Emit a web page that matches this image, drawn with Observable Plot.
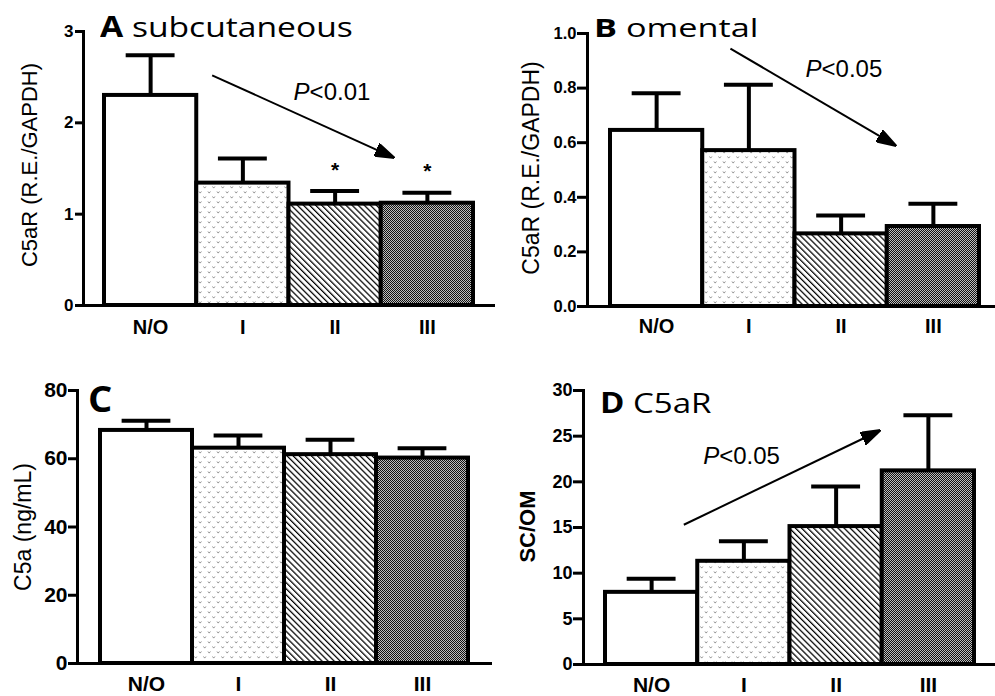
<!DOCTYPE html>
<html>
<head>
<meta charset="utf-8">
<script src="https://cdn.jsdelivr.net/npm/d3@7"></script>
<script src="https://cdn.jsdelivr.net/npm/@observablehq/plot@0.6"></script>
<style>
  html, body { margin: 0; padding: 0; background: #fff; }
  #page { position: relative; width: 995px; height: 696px; overflow: hidden; background: #fff; }
  .panel { position: absolute; }
  .panel svg { display: block; overflow: visible; }
  .panel svg, .panel svg text { font-family: "Liberation Sans", Arial, Helvetica, sans-serif !important; }
  .title { position: absolute; font-family: "Open Sans", "Noto Sans", sans-serif; line-height: 1; white-space: nowrap; color: #000; transform-origin: left center; }
  .title b { font-weight: 700; }
</style>
</head>
<body>
<svg width="0" height="0" style="position:absolute">
  <defs>
    <pattern id="pat-dots" width="9" height="10" patternUnits="userSpaceOnUse">
      <rect width="9" height="10" fill="white"/>
      <path d="M1,1.5 l1.2,1.6 l1.2,-1.6 M5.5,6.5 l1.2,1.6 l1.2,-1.6" stroke="#858585" stroke-width="0.9" fill="none"/>
    </pattern>
    <pattern id="pat-diag" width="4.3" height="10" patternUnits="userSpaceOnUse" patternTransform="rotate(-45)">
      <rect width="4.3" height="10" fill="white"/>
      <rect width="1.25" height="10" fill="black"/>
    </pattern>
    <pattern id="pat-check" width="2" height="2" patternUnits="userSpaceOnUse">
      <rect width="2" height="2" fill="#bdbdbd"/>
      <rect width="1" height="1" fill="#111"/>
      <rect x="1" y="1" width="1" height="1" fill="#111"/>
    </pattern>
  </defs>
</svg>
<div id="page">
  <div class="panel" id="pA" style="left:0px;top:0px"></div>
  <div class="panel" id="pB" style="left:497px;top:0px"></div>
  <div class="panel" id="pC" style="left:0px;top:340px"></div>
  <div class="panel" id="pD" style="left:497px;top:340px"></div>
  <div class="title" style="left:100px;top:12px;font-size:28px;transform:scaleX(1.2)"><b>A</b> subcutaneous</div>
  <div class="title" style="left:594px;top:15px;font-size:25px;transform:scaleX(1.37)"><b>B</b> omental</div>
  <div class="title" style="left:88px;top:381px;font-size:36px;transform:scaleX(1.06)"><b>C</b></div>
  <div class="title" style="left:600px;top:388px;font-size:28px;transform:scaleX(1.18)"><b>D</b> C5aR</div>
</div>
<script>
// ---------------- data ----------------
const categories = ["N/O", "I", "II", "III"];

// A: subcutaneous C5aR (R.E./GAPDH)
const subcutMean = [2.30, 1.34, 1.11, 1.12];
const subcutSem  = [0.44, 0.27, 0.145, 0.115];
const subcutSig  = ["", "", "*", "*"];
const subcutTicks = [0, 1, 2, 3];
const subcutTrendFrom = [0.667, 2.52];
const subcutTrendTo   = [2.636, 1.62];
const subcutPPos = [1.55, 2.245];
const subcutP = "<0.01";

// B: omental C5aR (R.E./GAPDH)
const omentalMean = [0.645, 0.571, 0.266, 0.293];
const omentalSem  = [0.136, 0.241, 0.067, 0.083];
const omentalTicks = [0, 0.2, 0.4, 0.6, 0.8, 1.0];
const omentalTrendFrom = [0.80, 0.945];
const omentalTrendTo   = [2.589, 0.590];
const omentalPPos = [1.614, 0.839];
const omentalP = "<0.05";

// C: serum C5a (ng/mL)
const c5aMean = [68.3, 63.1, 61.2, 60.2];
const c5aSem  = [2.8, 3.7, 4.4, 2.9];
const c5aTicks = [0, 20, 40, 60, 80];

// D: C5aR SC/OM ratio
const ratioMean = [7.9, 11.3, 15.1, 21.2];
const ratioSem  = [1.5, 2.2, 4.4, 6.1];
const ratioTicks = [0, 5, 10, 15, 20, 25, 30];
const ratioTrendFrom = [0.349, 15.3];
const ratioTrendTo   = [2.474, 25.62];
const ratioPPos = [0.559, 21.9];
const ratioP = "<0.05";

// ---------------- drawing ----------------
const fills = ["white", "url(#pat-dots)", "url(#pat-diag)", "url(#pat-check)"];
const FONT = "Liberation Sans, Arial, Helvetica, sans-serif";

function rows(mean, sem, sig) {
  return categories.map((c, i) => ({i, c, mean: mean[i], top: mean[i] + sem[i], sig: sig ? sig[i] : "", fill: fills[i]}));
}

function headMarker(color) {
  const ns = "http://www.w3.org/2000/svg";
  const m = document.createElementNS(ns, "marker");
  m.setAttribute("viewBox", "0 -7 20 14");
  m.setAttribute("markerUnits", "userSpaceOnUse");
  m.setAttribute("markerWidth", "20");
  m.setAttribute("markerHeight", "14");
  m.setAttribute("refX", "19");
  m.setAttribute("refY", "0");
  m.setAttribute("orient", "auto");
  const p = document.createElementNS(ns, "path");
  p.setAttribute("d", "M0,-6.5L20,0L0,6.5Z");
  p.setAttribute("fill", color === "currentColor" ? "black" : color);
  m.appendChild(p);
  return m;
}

function makePanel(cfg, marker) {
  const data = rows(cfg.mean, cfg.sem, cfg.sig);
  const cap = 0.265;
  const marks = [
    Plot.ruleX(data, {x: "i", y1: "mean", y2: "top", stroke: "black", strokeWidth: 4}),
    Plot.ruleY(data, {y: "top", x1: d => d.i - cap, x2: d => d.i + cap, stroke: "black", strokeWidth: 4}),
    Plot.rectY(data, {x1: d => d.i - 0.5, x2: d => d.i + 0.5, y: "mean", fill: "fill", stroke: "black", strokeWidth: 4}),
    Plot.ruleY([0], {stroke: "black", strokeWidth: 3}),
    Plot.frame({anchor: "left", stroke: "black", strokeWidth: 3}),
    Plot.axisY({ticks: cfg.ticks, tickFormat: cfg.tickFormat, tickSize: cfg.tickSize, tickPadding: cfg.tickPadding,
      fontSize: cfg.tickFont, fontWeight: "bold", stroke: "black", strokeWidth: 3, fill: "black", label: null}),
    Plot.axisX({ticks: [0, 1, 2, 3], tickFormat: i => categories[i], tickSize: 0, tickPadding: cfg.catPadding,
      fontSize: cfg.catFont, fontWeight: "bold", fill: "black", label: null}),
    Plot.text([cfg.yLabel], {frameAnchor: "left", text: d => d, rotate: -90, textAnchor: "middle", lineAnchor: "bottom",
      dx: cfg.yLabelDx, dy: cfg.yLabelDy, fontSize: cfg.yLabelFont, fontWeight: cfg.yLabelWeight, fill: "black"})
  ];
  if (cfg.sig) {
    marks.push(Plot.text(data, {x: "i", y: "top", text: "sig", dy: -21, fontSize: 21, fontWeight: "bold", fill: "black"}));
  }
  if (cfg.trendFrom) {
    const tr = [{x1: cfg.trendFrom[0], y1: cfg.trendFrom[1], x2: cfg.trendTo[0], y2: cfg.trendTo[1]}];
    if (marker === "custom") {
      marks.push(Plot.link(tr, {x1: "x1", y1: "y1", x2: "x2", y2: "y2", stroke: "black", strokeWidth: 2, markerEnd: headMarker}));
    } else {
      marks.push(Plot.arrow(tr, {x1: "x1", y1: "y1", x2: "x2", y2: "y2", stroke: "black", strokeWidth: 2, headLength: 16}));
    }
    const pp = [{x: cfg.pPos[0], y: cfg.pPos[1], t: cfg.pText}];
    marks.push(Plot.text(pp, {x: "x", y: "y", text: () => "P", fontStyle: "italic", textAnchor: "start", lineAnchor: "bottom", fontSize: 24, fill: "black"}));
    marks.push(Plot.text(pp, {x: "x", y: "y", text: "t", dx: 16, textAnchor: "start", lineAnchor: "bottom", fontSize: 24, fill: "black"}));
  }
  return Plot.plot({
    width: cfg.width, height: cfg.height,
    marginLeft: cfg.ml, marginRight: cfg.mr, marginTop: cfg.mt, marginBottom: cfg.mb,
    x: {type: "linear", domain: [-0.5, 3.5], insetLeft: cfg.il, insetRight: cfg.ir},
    y: {type: "linear", domain: [cfg.ticks[0], cfg.ticks[cfg.ticks.length - 1]]},
    color: {type: "identity"},
    style: {fontFamily: FONT, background: "transparent", color: "black", overflow: "visible"},
    marks
  });
}

const panels = [
  {id: "pA", width: 497, height: 340, ml: 83, mr: 2, mt: 31, mb: 35, il: 21, ir: 22,
   mean: subcutMean, sem: subcutSem, sig: subcutSig, ticks: subcutTicks, tickFormat: d3.format("d"),
   tickSize: 8, tickPadding: 2, tickFont: 17, catPadding: 14, catFont: 20,
   yLabel: "C5aR (R.E./GAPDH)", yLabelDx: -47, yLabelDy: -3.5, yLabelFont: 22, yLabelWeight: "normal",
   trendFrom: subcutTrendFrom, trendTo: subcutTrendTo, pPos: subcutPPos, pText: subcutP},
  {id: "pB", width: 498, height: 340, ml: 90, mr: 0, mt: 33, mb: 34, il: 23, ir: 16,
   mean: omentalMean, sem: omentalSem, ticks: omentalTicks, tickFormat: d3.format(".1f"),
   tickSize: 10, tickPadding: 1, tickFont: 16.5, catPadding: 12, catFont: 20,
   yLabel: "C5aR (R.E./GAPDH)", yLabelDx: -49, yLabelDy: -2, yLabelFont: 23, yLabelWeight: "normal",
   trendFrom: omentalTrendFrom, trendTo: omentalTrendTo, pPos: omentalPPos, pText: omentalP},
  {id: "pC", width: 497, height: 356, ml: 77, mr: 5, mt: 50, mb: 33, il: 23, ir: 24,
   mean: c5aMean, sem: c5aSem, ticks: c5aTicks, tickFormat: d3.format("d"),
   tickSize: 9, tickPadding: 1, tickFont: 21, catPadding: 13, catFont: 21,
   yLabel: "C5a (ng/mL)", yLabelDx: -47, yLabelDy: 0, yLabelFont: 23, yLabelWeight: "normal"},
  {id: "pD", width: 498, height: 356, ml: 86, mr: 0, mt: 50, mb: 32, il: 22, ir: 21,
   mean: ratioMean, sem: ratioSem, ticks: ratioTicks, tickFormat: d3.format("d"),
   tickSize: 10, tickPadding: 1, tickFont: 18, catPadding: 13, catFont: 21,
   yLabel: "SC/OM", yLabelDx: -49, yLabelDy: -1, yLabelFont: 22, yLabelWeight: "bold",
   trendFrom: ratioTrendFrom, trendTo: ratioTrendTo, pPos: ratioPPos, pText: ratioP}
];

for (const cfg of panels) {
  let chart;
  try { chart = makePanel(cfg, "custom"); }
  catch (e) { chart = makePanel(cfg, "arrow"); }
  document.getElementById(cfg.id).appendChild(chart);
}
</script>
</body>
</html>
